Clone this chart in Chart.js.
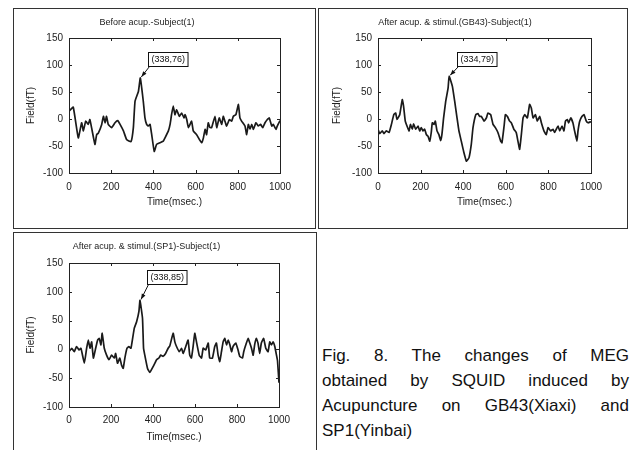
<!DOCTYPE html>
<html><head><meta charset="utf-8">
<script src="https://cdn.jsdelivr.net/npm/chart.js@4/dist/chart.umd.min.js"></script>
<style>
body{margin:0;background:#fff;width:630px;height:450px;overflow:hidden;position:relative;font-family:"Liberation Sans",Arial,sans-serif}
.panel{position:absolute;border:1px solid #333;box-sizing:border-box;overflow:hidden}
.panel canvas{position:absolute;left:0;top:0}
#cap{position:absolute;left:322px;top:343px;width:307px;font-size:17px;line-height:25px;color:#111}
#cap div{text-align:justify;text-align-last:justify}
#cap div.last{text-align:left;text-align-last:left}
</style></head><body>
<div class="panel" style="left:13px;top:8px;width:303px;height:221px"><canvas id="c1" width="301" height="219" style="width:301px;height:219px"></canvas></div>
<div class="panel" style="left:318px;top:8px;width:310px;height:221px"><canvas id="c2" width="308" height="219" style="width:308px;height:219px"></canvas></div>
<div class="panel" style="left:13px;top:232px;width:304px;height:226px"><canvas id="c3" width="302" height="217" style="width:302px;height:217px"></canvas></div>
<div id="cap">
<div>Fig. 8. The changes of MEG</div>
<div>obtained by SQUID induced by</div>
<div>Acupuncture on GB43(Xiaxi) and</div>
<div class="last">SP1(Yinbai)</div>
</div>
<script>
// ---- data ----
const titles = ["Before acup.-Subject(1)", "After acup. & stimul.(GB43)-Subject(1)", "After acup. & stimul.(SP1)-Subject(1)"];
const xTitle = "Time(msec.)";
const yTitle = "Field(fT)";
const xTicks = [0, 200, 400, 600, 800, 1000];
const yTicks = [-100, -50, 0, 50, 100, 150];

const t1 = [0,20,44,60,68,79,91,99,107,123,131,139,155,163,171,178,186,202,218,231,242,258,273,294,305,313,329,338,352,360,368,376,384,392,404,415,431,447,455,471,479,486,494,502,510,523,534,545,550,558,566,581,589,605,618,629,637,645,652,660,668,676,692,700,712,724,731,739,747,760,771,779,791,803,810,818,834,842,850,858,866,874,886,897,908,918,929,940,949,961,968,981,987,1000];
const v1 = [14,22,-35,-7,-22,-4,-10,-1,-16,-47,-29,-26,-10,5,-7,5,-10,-16,-7,-3,-10,-22,-38,-42,-16,33,51,76,33,2,-10,-13,-10,-29,-60,-47,-44,-41,-35,-22,-10,8,24,8,17,5,11,2,8,-1,-16,-4,-22,-29,-38,-44,-35,-19,-29,-7,-16,-16,5,-16,2,-10,5,-4,-13,-1,-4,5,8,27,2,-4,-13,-29,-10,-19,-10,-19,-7,-13,-10,-16,-7,-1,2,-13,-10,-19,-13,-3];

const t2 = [0,8,20,28,39,52,63,74,83,89,102,114,120,128,136,146,152,161,167,177,188,196,203,211,219,227,235,243,250,255,263,269,277,286,294,300,308,318,329,334,349,360,371,380,391,402,415,427,438,446,459,469,477,485,498,509,516,529,540,551,563,576,582,592,598,607,618,626,638,649,657,665,673,681,689,701,712,720,728,739,748,759,767,779,790,798,811,822,829,837,845,853,864,873,880,889,895,905,915,923,934,939,947,958,967,978,986,1000];
const v2 = [-19,-27,-22,-27,-22,-25,-10,8,11,-1,8,36,24,-4,-13,-22,-10,-19,-9,-19,-13,-22,-16,-22,-19,-29,-32,-41,-25,-7,-10,-4,-22,-29,-40,-29,2,33,57,79,61,33,2,-22,-41,-60,-78,-72,-47,-16,8,10,5,5,-4,2,11,8,-10,-16,-25,-41,-44,-13,8,5,-4,-7,-19,-25,-41,-56,-29,2,8,2,27,20,2,8,-4,5,-7,-22,-29,-16,-22,-19,-25,-19,-13,-22,-13,-22,-4,-1,-7,2,-7,-22,-41,-22,-4,5,8,-4,-7,-5];

const t3 = [0,13,25,36,48,57,73,84,92,100,108,116,127,136,144,152,158,168,179,190,203,216,222,231,242,250,258,266,276,285,295,303,311,322,333,338,350,355,361,374,385,396,409,417,428,437,448,460,472,480,496,504,512,525,536,544,556,567,575,583,591,599,607,620,631,639,651,663,670,683,694,702,710,718,726,734,742,750,758,766,774,781,794,805,813,826,832,842,853,861,869,877,884,892,900,908,916,927,937,948,956,964,972,980,988,993,1000];
const v3 = [-4,2,-4,5,-1,2,-24,2,16,2,13,-15,2,16,19,8,28,2,-10,-18,-10,-15,-7,-24,-15,-27,-33,-15,2,5,2,19,37,48,66,85,54,2,-10,-33,-40,-33,-24,-18,-15,-10,-12,-7,2,6,28,13,5,-4,2,-7,5,16,-10,-15,5,28,13,-10,-15,2,-1,11,-15,-15,5,11,-10,-21,-4,13,19,8,16,8,-4,5,11,-1,-12,-15,-4,8,19,11,2,-10,8,19,11,-7,11,19,2,-4,13,8,13,5,-10,-20,-58];

const peakT = [338, 334, 338];
const peakV = [76, 79, 85];

// ---- plugins ----
const framePlugin = {
  id: 'frame',
  afterDatasetsDraw(chart) {
    const {ctx, chartArea: a, scales: {x, y}} = chart;
    ctx.save();
    ctx.strokeStyle = '#222';
    ctx.lineWidth = 1;
    ctx.strokeRect(Math.round(a.left) + 0.5, Math.round(a.top) + 0.5, Math.round(a.right - a.left), Math.round(a.bottom - a.top));
    ctx.beginPath();
    x.ticks.forEach(tk => {
      const p = Math.round(x.getPixelForValue(tk.value)) + 0.5;
      ctx.moveTo(p, a.bottom); ctx.lineTo(p, a.bottom - 3);
      ctx.moveTo(p, a.top); ctx.lineTo(p, a.top + 3);
    });
    y.ticks.forEach(tk => {
      const p = Math.round(y.getPixelForValue(tk.value)) + 0.5;
      ctx.moveTo(a.left, p); ctx.lineTo(a.left + 3, p);
      ctx.moveTo(a.right, p); ctx.lineTo(a.right - 3, p);
    });
    ctx.stroke();
    ctx.restore();
  }
};
const peakPlugin = {
  id: 'peakNote',
  afterDatasetsDraw(chart, args, o) {
    const {ctx, scales: {x, y}} = chart;
    const px = x.getPixelForValue(o.t), py = y.getPixelForValue(o.v);
    const label = '(' + o.t + ',' + o.v + ')';
    ctx.save();
    ctx.font = '9px "Liberation Sans", Arial, sans-serif';
    const w = ctx.measureText(label).width + 6, h = 14;
    const bx = Math.round(px + o.dx) + 0.5, by = Math.round(py + o.dy) + 0.5;
    ctx.strokeStyle = '#111'; ctx.fillStyle = '#111'; ctx.lineWidth = 1;
    const sx = bx + 1, sy = by + h;
    ctx.beginPath(); ctx.moveTo(sx, sy); ctx.lineTo(px + 1, py - 1); ctx.stroke();
    const ang = Math.atan2(py - sy, px - sx);
    ctx.beginPath();
    ctx.moveTo(px + 1, py - 1);
    ctx.lineTo(px + 1 - 6 * Math.cos(ang - 0.35), py - 1 - 6 * Math.sin(ang - 0.35));
    ctx.lineTo(px + 1 - 6 * Math.cos(ang + 0.35), py - 1 - 6 * Math.sin(ang + 0.35));
    ctx.closePath(); ctx.fill();
    ctx.fillStyle = '#fff';
    ctx.fillRect(bx, by, w, h);
    ctx.strokeRect(bx, by, w, h);
    ctx.fillStyle = '#111';
    ctx.textBaseline = 'middle'; ctx.textAlign = 'left';
    ctx.fillText(label, bx + 3, by + h / 2 + 0.5);
    ctx.restore();
  }
};

const FONT = '"Liberation Sans", Arial, sans-serif';
function makeChart(id, idx, ts, vs, L) {
  return new Chart(document.getElementById(id), {
    type: 'line',
    data: { datasets: [{
      data: ts.map((t, i) => ({x: t, y: vs[i]})),
      borderColor: '#1a1a1a', borderWidth: 1.7, pointRadius: 0,
      tension: 0.12, fill: false
    }]},
    options: {
      responsive: false, animation: false, devicePixelRatio: 1,
      layout: { padding: { left: 0, right: L.padRight, top: 0, bottom: 0 } },
      plugins: {
        legend: { display: false }, tooltip: { enabled: false },
        title: { display: true, text: titles[idx], color: '#222',
          font: { family: FONT, size: 9, lineHeight: 1.2, weight: 'normal' },
          padding: { top: 8.6, bottom: L.titleBottom } },
        peakNote: { t: peakT[idx], v: peakV[idx], dx: L.dx, dy: L.dy }
      },
      scales: {
        x: { type: 'linear', min: 0, max: 1000,
          afterBuildTicks: s => { s.ticks = xTicks.map(v => ({value: v})); },
          afterFit: s => { s.height = L.xH; },
          grid: { display: false, drawTicks: false }, border: { display: false },
          ticks: { padding: L.xTickPad, color: '#222', font: { family: FONT, size: 10 }, maxRotation: 0, callback: v => String(v) },
          title: { display: true, text: xTitle, color: '#222', font: { family: FONT, size: 10, lineHeight: 1.2 }, padding: { top: 0, bottom: L.xTitlePad } } },
        y: { type: 'linear', min: -100, max: 150,
          afterBuildTicks: s => { s.ticks = yTicks.map(v => ({value: v})); },
          afterFit: s => { s.width = L.yW; },
          grid: { display: false, drawTicks: false }, border: { display: false },
          ticks: { padding: 6, color: '#222', font: { family: FONT, size: 10 }, callback: v => String(v) },
          title: { display: true, text: yTitle, color: '#222', font: { family: FONT, size: 10, lineHeight: 1.2 }, padding: { top: L.yTitlePad, bottom: 0 } } }
      }
    },
    plugins: [framePlugin, peakPlugin]
  });
}
makeChart('c1', 0, t1, v1, { padRight: 35, titleBottom: 9.6, xH: 55, xTickPad: 8, xTitlePad: 20, yW: 55, yTitlePad: 11, dx: 8, dy: -26 });
makeChart('c2', 1, t2, v2, { padRight: 36, titleBottom: 9.6, xH: 55, xTickPad: 8, xTitlePad: 20, yW: 59, yTitlePad: 12, dx: 8, dy: -24 });
makeChart('c3', 2, t3, v3, { padRight: 37, titleBottom: 10.6, xH: 43, xTickPad: 7, xTitlePad: 7, yW: 55, yTitlePad: 11, dx: 7, dy: -30 });
</script>
</body></html>
